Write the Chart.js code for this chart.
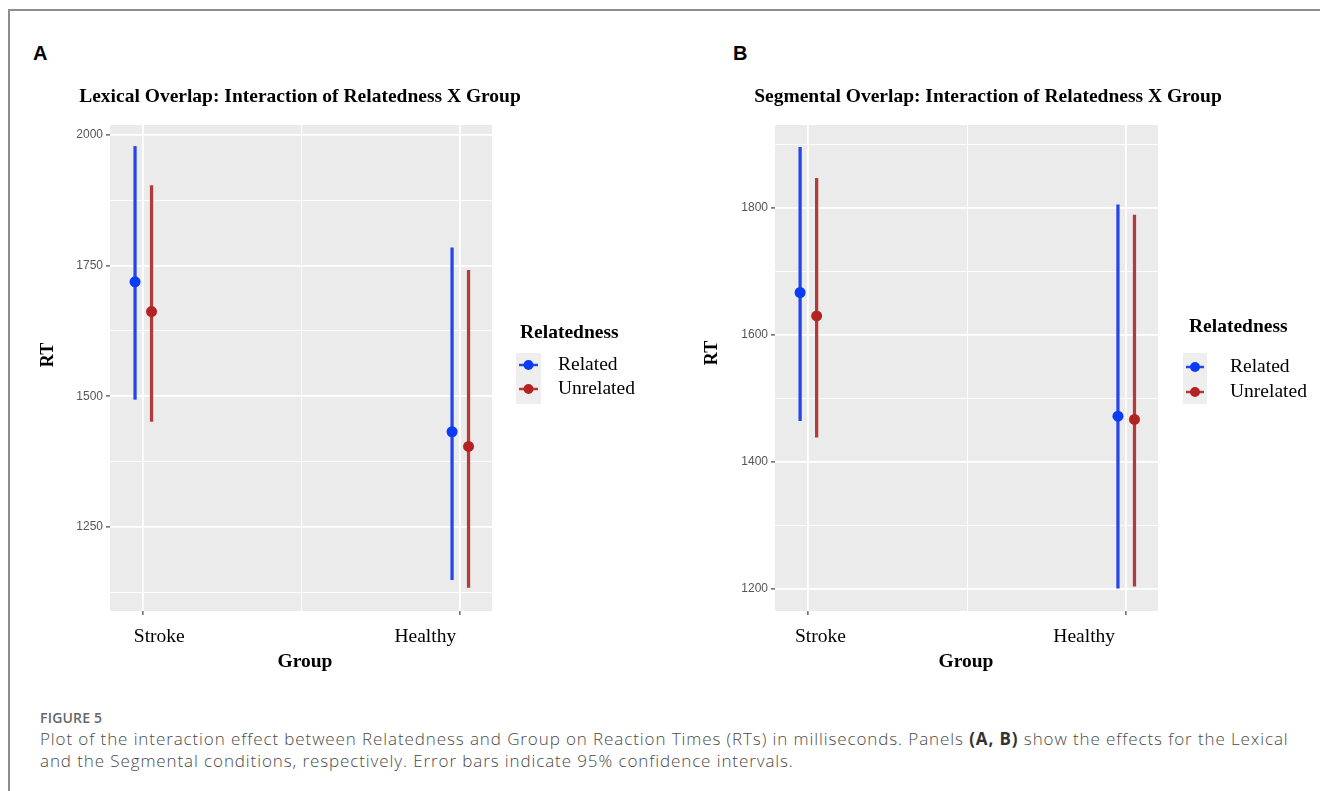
<!DOCTYPE html>
<html>
<head>
<meta charset="utf-8">
<title>Figure 5 – Relatedness × Group</title>
<script src="https://cdn.jsdelivr.net/npm/chart.js@4.4.1/dist/chart.umd.min.js"></script>
<style>
  html, body { margin: 0; padding: 0; background: #fff; }
  body { width: 1320px; height: 791px; position: relative; overflow: hidden; }
  .frame { position: absolute; left: 8px; top: 9px; width: 1330px; height: 800px;
           border-left: 2px solid #8d8d8d; border-top: 2px solid #8d8d8d; }
  .letter { position: absolute; top: 42px; font: bold 20px "Liberation Sans", Arial, sans-serif; color: #000; }
  .panel { position: absolute; top: 0; height: 700px; }
  .caption { position: absolute; left: 40px; top: 708px; width: 1265px; color: #4a4a4a;
             font-family: "Open Sans", "Noto Sans", sans-serif; }
  .caption .fig { font-size: 14px; font-weight: 600; color: #666; letter-spacing: 0.2px; margin-bottom: 1px; }
  .caption .txt { font-size: 17px; line-height: 22px; font-weight: 300; letter-spacing: 0.9px; }
  .caption b { font-weight: 700; color: #333; }
</style>
</head>
<body>
<div class="frame"></div>
<div class="letter" style="left:33px">A</div>
<div class="letter" style="left:733px">B</div>

<div class="panel" style="left:0;width:665px"><canvas id="lexical" width="665" height="700"></canvas></div>
<div class="panel" style="left:665px;width:655px"><canvas id="segmental" width="655" height="700"></canvas></div>

<div class="caption">
  <div class="fig">FIGURE 5</div>
  <div class="txt">Plot of the interaction effect between Relatedness and Group on Reaction Times (RTs) in milliseconds. Panels <b>(A, B)</b> show the effects for the Lexical and the Segmental conditions, respectively. Error bars indicate 95% confidence intervals.</div>
</div>

<script>
// ---- data ---------------------------------------------------------------
const groups = ['Stroke', 'Healthy'];
const relatedness = ['Related', 'Unrelated'];

// Lexical overlap: mean RT and 95% CI bounds (ms), per group
const lexRelatedMean   = [1719, 1432];
const lexRelatedLow    = [1494, 1149];
const lexRelatedHigh   = [1978, 1784];
const lexUnrelatedMean = [1662, 1404];
const lexUnrelatedLow  = [1452, 1134];
const lexUnrelatedHigh = [1903, 1741];
const lexTicks = [1250, 1500, 1750, 2000];
const lexRange = [1089, 2019];

// Segmental overlap
const segRelatedMean   = [1667, 1472];
const segRelatedLow    = [1465, 1201];
const segRelatedHigh   = [1896, 1805];
const segUnrelatedMean = [1630, 1467];
const segUnrelatedLow  = [1439, 1204];
const segUnrelatedHigh = [1847, 1789];
const segTicks = [1200, 1400, 1600, 1800];
const segRange = [1165, 1931];

// ---- styling --------------------------------------------------------------
const SERIF = '"Liberation Serif", "Times New Roman", serif';
const SANS = '"Liberation Sans", Arial, sans-serif';
const POINT_COLORS = ['#0a3cf5', '#b42323'];
const BAR_COLORS = ['#2446e8', '#b43a3a'];
const DODGE = 0.026;

// minor gridlines sit halfway between the major breaks
function withMinor(major, lo, hi) {
  const step = major[1] - major[0];
  const all = [];
  for (let v = major[0] - step / 2; v <= major[major.length - 1] + step / 2; v += step / 2) {
    if (v >= lo && v <= hi) all.push(v);
  }
  return all;
}

const ggDecor = {
  id: 'ggDecor',
  beforeDraw(chart) {
    const { ctx, chartArea: a } = chart;
    ctx.save();
    ctx.fillStyle = '#EBEBEB';
    ctx.fillRect(a.left, a.top, a.right - a.left, a.bottom - a.top);
    ctx.restore();
  },
  afterDraw(chart, args, o) {
    const { ctx } = chart;
    const xs = chart.scales.x;
    ctx.save();
    ctx.fillStyle = '#000';
    ctx.textAlign = 'center';
    ctx.textBaseline = 'middle';

    // panel title
    ctx.font = 'bold 19.5px ' + SERIF;
    ctx.fillText(o.title, o.titleX, o.titleY);

    // category labels under the ticks
    ctx.font = '19.5px ' + SERIF;
    groups.forEach((g, i) => {
      ctx.fillText(g, xs.getPixelForValue(i + 1) + o.labelShift[i], o.labelY);
    });

    // axis titles
    ctx.font = 'bold 19.5px ' + SERIF;
    ctx.fillText('Group', o.xTitleX, o.xTitleY);
    ctx.save();
    ctx.translate(o.yTitleX, o.yTitleY);
    ctx.rotate(-Math.PI / 2);
    ctx.font = 'bold 18px ' + SERIF;
    ctx.fillText('RT', 0, 0);
    ctx.restore();

    // legend
    const L = o.legend;
    ctx.textAlign = 'left';
    ctx.font = 'bold 19.5px ' + SERIF;
    ctx.fillText('Relatedness', L.titleX, L.titleY);
    ctx.fillStyle = '#EEEEEE';
    ctx.fillRect(L.keyX, L.keyY, L.keyW, L.keyH);
    relatedness.forEach((name, i) => {
      const cy = L.itemY[i];
      ctx.strokeStyle = BAR_COLORS[i];
      ctx.lineWidth = 2.5;
      ctx.beginPath();
      ctx.moveTo(L.keyX + 3, cy);
      ctx.lineTo(L.keyX + L.keyW - 3, cy);
      ctx.stroke();
      ctx.fillStyle = POINT_COLORS[i];
      ctx.beginPath();
      ctx.arc(L.keyX + L.keyW / 2, cy, 5, 0, Math.PI * 2);
      ctx.fill();
      ctx.fillStyle = '#000';
      ctx.font = '19.5px ' + SERIF;
      ctx.fillText(name, L.textX, cy);
    });
    ctx.restore();
  }
};

function buildPanel(id, means, lows, highs, ticks, range, decor, area) {
  const canvas = document.getElementById(id);
  const yAll = withMinor(ticks, range[0], range[1]);
  const isMajorY = c => !!c.tick && ticks.includes(c.tick.value);
  const isMajorX = c => !!c.tick && Number.isInteger(c.tick.value);

  const datasets = [];
  relatedness.forEach((name, s) => {
    const off = s === 0 ? -DODGE : DODGE;
    datasets.push({
      type: 'bar',
      label: name + ' 95% CI',
      data: groups.map((g, i) => ({ x: i + 1 + off, y: [lows[s][i], highs[s][i]] })),
      backgroundColor: BAR_COLORS[s],
      borderWidth: 0,
      barThickness: 2.6,
      grouped: false,
      order: 2
    });
  });
  relatedness.forEach((name, s) => {
    const off = s === 0 ? -DODGE : DODGE;
    datasets.push({
      type: 'scatter',
      label: name,
      data: groups.map((g, i) => ({ x: i + 1 + off, y: means[s][i] })),
      backgroundColor: POINT_COLORS[s],
      borderWidth: 0,
      pointRadius: 5.5,
      pointHoverRadius: 5.5,
      order: 1
    });
  });

  return new Chart(canvas, {
    type: 'scatter',
    data: { datasets },
    plugins: [ggDecor],
    options: {
      responsive: false,
      animation: false,
      devicePixelRatio: 1,
      layout: {
        padding: { left: area.left - 60, top: area.top, right: canvas.width - area.right,
                   bottom: canvas.height - area.bottom - 10 }
      },
      plugins: {
        legend: { display: false },
        tooltip: { enabled: false },
        title: { display: false },
        ggDecor: decor
      },
      scales: {
        x: {
          type: 'linear',
          min: 0.895,
          max: 2.1,
          offset: false,
          afterBuildTicks: sc => { sc.ticks = [1, 1.5, 2].map(v => ({ value: v })); },
          afterFit: sc => { sc.height = 10; },
          ticks: { display: false },
          border: { display: false },
          grid: {
            offset: false,
            color: '#FFFFFF',
            lineWidth: c => isMajorX(c) ? 1.8 : 0.9,
            tickColor: c => isMajorX(c) ? '#444' : 'rgba(0,0,0,0)',
            tickLength: 4,
            tickWidth: 1.2
          }
        },
        y: {
          type: 'linear',
          min: range[0],
          max: range[1],
          afterBuildTicks: sc => { sc.ticks = yAll.map(v => ({ value: v })); },
          afterFit: sc => { sc.width = 60; },
          border: { display: false },
          ticks: {
            autoSkip: false,
            padding: 3,
            color: '#555',
            font: { family: SANS, size: 12 },
            callback: v => ticks.includes(v) ? String(v) : ''
          },
          grid: {
            offset: false,
            color: '#FFFFFF',
            lineWidth: c => isMajorY(c) ? 1.8 : 0.9,
            tickColor: c => isMajorY(c) ? '#444' : 'rgba(0,0,0,0)',
            tickLength: 4,
            tickWidth: 1.2
          }
        }
      }
    }
  });
}

buildPanel('lexical',
  [lexRelatedMean, lexUnrelatedMean],
  [lexRelatedLow, lexUnrelatedLow],
  [lexRelatedHigh, lexUnrelatedHigh],
  lexTicks, lexRange,
  {
    title: 'Lexical Overlap: Interaction of Relatedness X Group',
    titleX: 300, titleY: 97,
    labelShift: [16, -35], labelY: 637,
    xTitleX: 305, xTitleY: 662,
    yTitleX: 48, yTitleY: 355,
    legend: { titleX: 520, titleY: 333, keyX: 516, keyY: 353, keyW: 25, keyH: 51,
              itemY: [365, 389], textX: 558 }
  },
  { left: 110, right: 492, top: 125, bottom: 611 });

buildPanel('segmental',
  [segRelatedMean, segUnrelatedMean],
  [segRelatedLow, segUnrelatedLow],
  [segRelatedHigh, segUnrelatedHigh],
  segTicks, segRange,
  {
    title: 'Segmental Overlap: Interaction of Relatedness X Group',
    titleX: 323, titleY: 97,
    labelShift: [12, -42], labelY: 637,
    xTitleX: 301, xTitleY: 662,
    yTitleX: 47, yTitleY: 353,
    legend: { titleX: 524, titleY: 327, keyX: 518, keyY: 353, keyW: 24, keyH: 51,
              itemY: [367, 392], textX: 565 }
  },
  { left: 110, right: 493, top: 125, bottom: 611 });
</script>
</body>
</html>
